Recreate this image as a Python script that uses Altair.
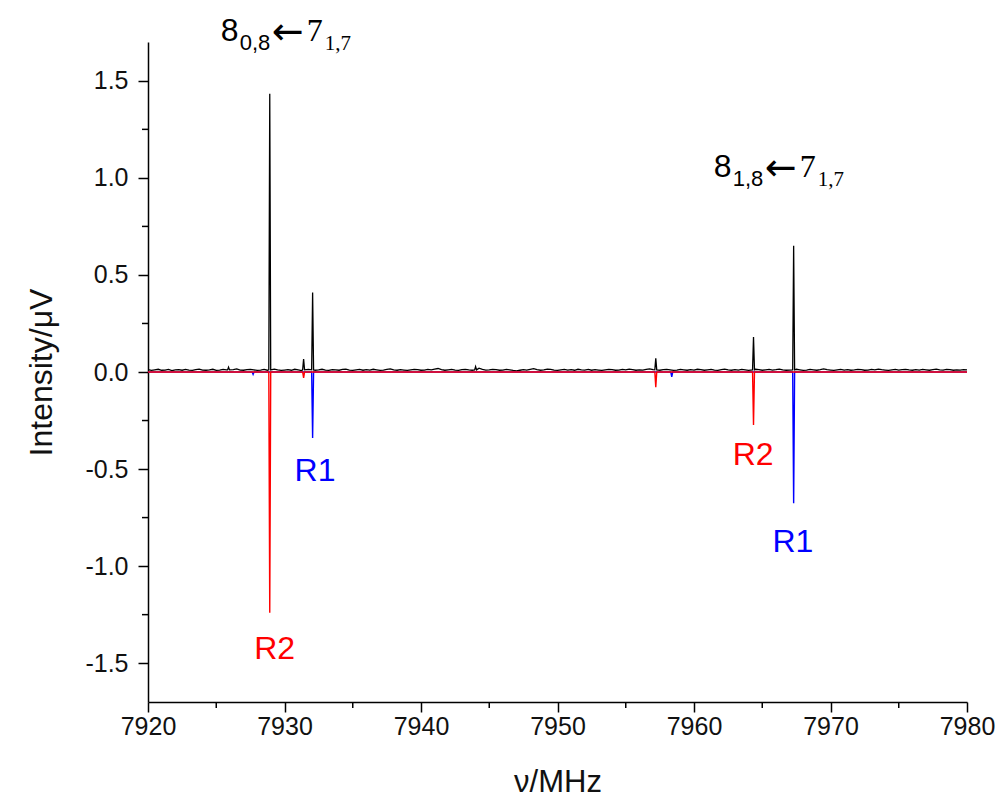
import altair as alt
import pandas as pd

# ---------------- data ----------------
F_START = 7920.0
F_STEP = 0.25
# experimental baseline noise (hand-read, approx), one value per 0.25 MHz
exp_noise = [
    0.012, 0.008, 0.011, 0.014, 0.009, 0.010, 0.013, 0.007, 0.011, 0.012,
    0.009, 0.013, 0.010, 0.008, 0.012, 0.015, 0.010, 0.009, 0.011, 0.014,
    0.008, 0.010, 0.013, 0.011, 0.007, 0.012, 0.016, 0.010, 0.009, 0.012,
    0.014, 0.011, 0.008, 0.010, 0.013, 0.009, 0.012, 0.015, 0.011, 0.008,
    0.010, 0.012, 0.009, 0.014, 0.011, 0.007, 0.010, 0.013, 0.012, 0.009,
    0.011, 0.014, 0.010, 0.008, 0.012, 0.011, 0.009, 0.013, 0.015, 0.010,
    0.008, 0.011, 0.013, 0.009, 0.012, 0.010, 0.014, 0.011, 0.008, 0.010,
    0.013, 0.016, 0.011, 0.009, 0.012, 0.010, 0.008, 0.011, 0.014, 0.012,
    0.009, 0.010, 0.013, 0.011, 0.015, 0.018, 0.012, 0.009, 0.011, 0.013,
    0.010, 0.008, 0.012, 0.014, 0.011, 0.009, 0.016, 0.020, 0.013, 0.010,
    0.011, 0.014, 0.012, 0.009, 0.010, 0.013, 0.011, 0.008, 0.006, 0.009,
    0.012, 0.010, 0.014, 0.017, 0.012, 0.009, 0.011, 0.015, 0.013, 0.010,
    0.008, 0.011, 0.013, 0.010, 0.012, 0.009, 0.014, 0.011, 0.010, 0.013,
    0.009, 0.012, 0.010, 0.008, 0.011, 0.014, 0.012, 0.009, 0.010, 0.013,
    0.011, 0.015, 0.012, 0.009, 0.011, 0.010, 0.013, 0.016, 0.012, 0.010,
    0.009, 0.012, 0.014, 0.011, 0.008, 0.010, 0.013, 0.011, 0.009, 0.012,
    0.010, 0.014, 0.012, 0.009, 0.011, 0.013, 0.010, 0.008, 0.012, 0.015,
    0.011, 0.009, 0.012, 0.010, 0.013, 0.011, 0.008, 0.010, 0.014, 0.012,
    0.009, 0.011, 0.013, 0.010, 0.012, 0.015, 0.011, 0.009, 0.010, 0.012,
    0.014, 0.011, 0.008, 0.010, 0.013, 0.011, 0.009, 0.012, 0.016, 0.012,
    0.010, 0.008, 0.011, 0.013, 0.010, 0.012, 0.009, 0.011, 0.014, 0.012,
    0.009, 0.010, 0.013, 0.011, 0.015, 0.012, 0.010, 0.008, 0.011, 0.013,
    0.010, 0.012, 0.014, 0.011, 0.009, 0.012, 0.010, 0.013, 0.011, 0.009,
    0.012, 0.015, 0.011, 0.010, 0.013, 0.012, 0.009, 0.011, 0.010, 0.012,
    0.011,
]

# experimental lines (peak centre, MHz / peak height, uV)
exp_peak_freq = [7925.9, 7928.92, 7931.40, 7932.06, 7944.0, 7957.20, 7964.36, 7967.30]
exp_peak_int = [0.025, 1.433, 0.067, 0.41, 0.028, 0.07, 0.18, 0.65]

# simulated spectra (negative sticks)
r2_freq = [7928.92, 7931.40, 7957.20, 7964.36]
r2_int = [-1.24, -0.03, -0.078, -0.273]
r1_freq = [7927.7, 7932.06, 7958.37, 7967.30]
r1_int = [-0.012, -0.34, -0.025, -0.676]

x_ticks = [7920, 7930, 7940, 7950, 7960, 7970, 7980]
x_minor = [7925, 7935, 7945, 7955, 7965, 7975]
y_ticks = [-1.5, -1.0, -0.5, 0.0, 0.5, 1.0, 1.5]
y_minor = [-1.25, -0.75, -0.25, 0.25, 0.75, 1.25]

# labels
series_labels = ["R2", "R1", "R2", "R1"]
series_label_color = ["#ff0000", "#0000ff", "#ff0000", "#0000ff"]
series_label_f = [7929.28, 7932.24, 7964.33, 7967.25]
series_label_v = [-1.479, -0.562, -0.479, -0.928]

trans_f = [7925.33, 7961.44]
trans_v = [1.706, 1.005]
trans_upper = [("8", "0,8", "7", "1,7"), ("8", "1,8", "7", "1,7")]

HALF_W = 0.07

# ---------------- build tables ----------------
rows = []
for i, v in enumerate(exp_noise):
    f = F_START + F_STEP * i
    if any(abs(f - p) < 0.11 for p in exp_peak_freq):
        continue
    rows.append((f, v))
for p, h in zip(exp_peak_freq, exp_peak_int):
    rows += [(p - HALF_W, 0.011), (p, h), (p + HALF_W, 0.011)]
exp_df = pd.DataFrame(rows, columns=["f", "v"]).sort_values("f")


def sim_table(freqs, ints):
    r = [(F_START, 0.0), (7980.0, 0.0)]
    for p, h in zip(freqs, ints):
        r += [(p - HALF_W, 0.0), (p, h), (p + HALF_W, 0.0)]
    return pd.DataFrame(r, columns=["f", "v"]).sort_values("f")


r2_df = sim_table(r2_freq, r2_int)
r1_df = sim_table(r1_freq, r1_int)

FONT = "Liberation Sans"
SERIF = "Liberation Serif"

x_enc = alt.X(
    "f:Q",
    scale=alt.Scale(domain=[7920, 7980], nice=False, zero=False),
    axis=alt.Axis(
        values=x_ticks, title="ν/MHz", format="d", tickSize=10, labelPadding=2,
        labelFlush=False, titlePadding=28, titleFontSize=31,
    ),
)
y_enc = alt.Y(
    "v:Q",
    scale=alt.Scale(domain=[-1.7, 1.7], nice=False),
    axis=alt.Axis(
        values=y_ticks, title="Intensity/μV", tickSize=10, labelPadding=10,
        titlePadding=26, labelFlush=False,
        labelExpr="replace(format(datum.value, '.1f'), '−', '-')",
    ),
)

exp_line = alt.Chart(exp_df).mark_line(color="black", strokeWidth=1.3).encode(x=x_enc, y=y_enc)
r1_line = alt.Chart(r1_df).mark_line(color="#0000ff", strokeWidth=1.4).encode(x=x_enc, y=y_enc)
r2_line = alt.Chart(r2_df).mark_line(color="#ff0000", strokeWidth=1.4).encode(x=x_enc, y=y_enc)

ymin_rules = alt.Chart(pd.DataFrame({"v": y_minor})).mark_rule(
    color="black", strokeWidth=1.5
).encode(y=y_enc, x=alt.value(-6), x2=alt.value(0))
xmin_rules = alt.Chart(pd.DataFrame({"f": x_minor})).mark_rule(
    color="black", strokeWidth=1.5
).encode(x=x_enc, y=alt.value(660), y2=alt.value(666))

lab_df = pd.DataFrame({
    "f": series_label_f, "v": series_label_v,
    "t": series_labels, "c": series_label_color,
})
series_text = alt.Chart(lab_df).mark_text(
    font=FONT, fontSize=32, align="center", baseline="alphabetic"
).encode(x=x_enc, y=y_enc, text="t:N", color=alt.Color("c:N", scale=None))

trans_layers = []
for (f, v, parts) in zip(trans_f, trans_v, trans_upper):
    d = pd.DataFrame({"f": [f], "v": [v]})
    big8, sub1, big7, sub2 = parts
    specs = [
        (big8, FONT, 32, 0, 0),
        (sub1, FONT, 22, 19, 9),
        ("←", "DejaVu Sans", 38, 51, 3),
        (big7, SERIF, 32, 86, 0),
        (sub2, SERIF, 21, 104, 9),
    ]
    for txt, fnt, size, dx, dy in specs:
        trans_layers.append(
            alt.Chart(d).mark_text(
                text=txt, font=fnt, fontSize=size, align="left",
                baseline="alphabetic", dx=dx, dy=dy, color="black",
            ).encode(x=x_enc, y=y_enc)
        )

chart = alt.layer(
    exp_line, r1_line, r2_line, ymin_rules, xmin_rules, series_text, *trans_layers
).properties(
    width=819, height=660,
    autosize=alt.AutoSizeParams(type="none"),
    padding={"left": 140, "top": 34, "right": 28, "bottom": 102},
).configure_view(stroke=None).configure_axis(
    grid=False, domainColor="black", domainWidth=1.5, tickColor="black",
    tickWidth=1.5, labelFont=FONT, labelFontSize=25, labelColor="#111",
    titleFont=FONT, titleFontSize=32, titleFontWeight="normal", titleColor="#111",
)

chart.save("out.html", embed_options={"renderer": "svg", "actions": False})
